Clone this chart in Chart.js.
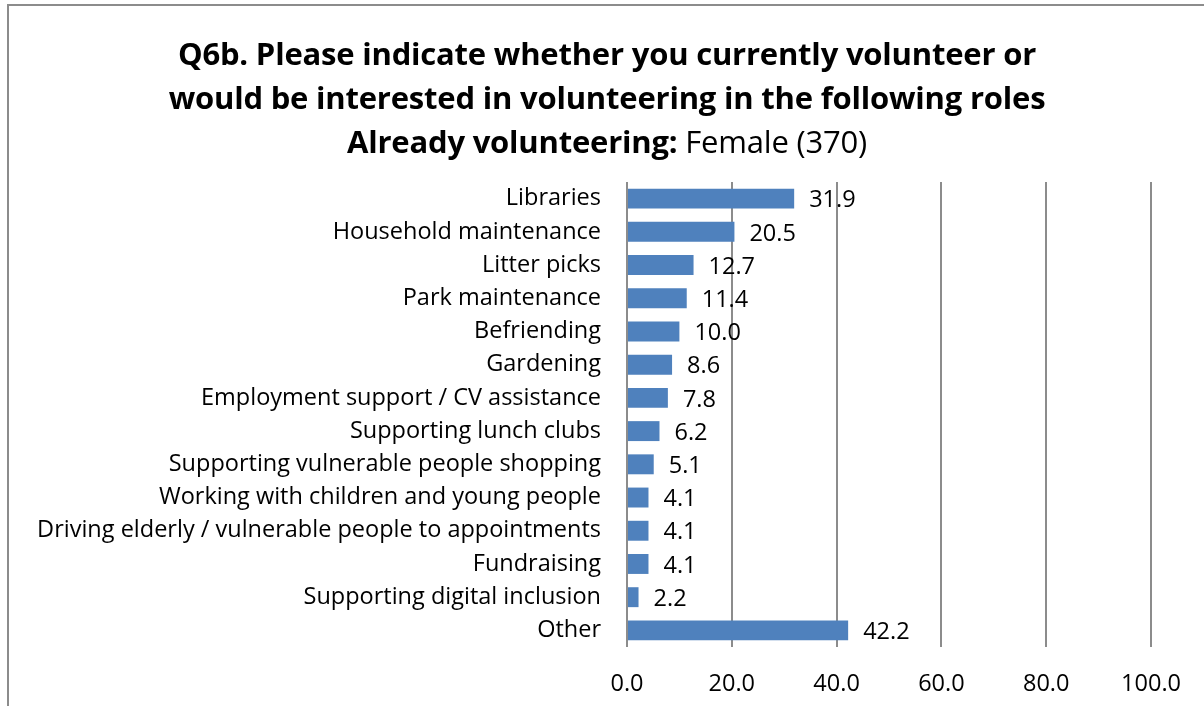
<!DOCTYPE html>
<html>
<head>
<meta charset="utf-8">
<script src="https://cdn.jsdelivr.net/npm/chart.js@4"></script>
<style>
  html, body { margin: 0; padding: 0; background: #fff; }
  #wrap { position: relative; width: 1204px; height: 706px; overflow: hidden; }
  #frame { position: absolute; left: 7px; top: 4px; width: 1300px; height: 800px;
           border-left: 2px solid #8c8c8c; border-top: 2px solid #8c8c8c; }
  #title { position: absolute; left: 0; top: 31px; width: 1214px; text-align: center;
           font-family: "Open Sans", sans-serif; font-size: 31px; line-height: 44px;
           font-weight: bold; color: #000; letter-spacing: -0.2px; }
  #title .plain { font-weight: normal; }
  canvas { position: absolute; left: 0; top: 0; }
</style>
</head>
<body>
<div id="wrap">
  <div id="frame"></div>
  <canvas id="rolesChart" width="1204" height="706"></canvas>
  <div id="title">
    Q6b. Please indicate whether you currently volunteer or<br>
    would be interested in volunteering in the following roles<br>
    Already volunteering: <span class="plain">Female (370)</span>
  </div>
</div>
<script>
const categories = [
  'Libraries',
  'Household maintenance',
  'Litter picks',
  'Park maintenance',
  'Befriending',
  'Gardening',
  'Employment support / CV assistance',
  'Supporting lunch clubs',
  'Supporting vulnerable people shopping',
  'Working with children and young people',
  'Driving elderly / vulnerable people to appointments',
  'Fundraising',
  'Supporting digital inclusion',
  'Other'
];
const femaleValues = [31.9, 20.5, 12.7, 11.4, 10.0, 8.6, 7.8, 6.2, 5.1, 4.1, 4.1, 4.1, 2.2, 42.2];
const xTicks = [0, 20, 40, 60, 80, 100];

const labelFont = { family: '"Open Sans", sans-serif', size: 23.5 };

// value labels to the right of each bar
const barValues = {
  id: 'barValues',
  afterDatasetsDraw(chart) {
    const ctx = chart.ctx;
    const meta = chart.getDatasetMeta(0);
    ctx.save();
    ctx.font = labelFont.size + 'px ' + labelFont.family;
    ctx.fillStyle = '#000';
    ctx.textAlign = 'left';
    ctx.textBaseline = 'middle';
    meta.data.forEach((bar, i) => {
      ctx.fillText(femaleValues[i].toFixed(1), bar.x + 15, bar.y + 2);
    });
    ctx.restore();
  }
};

new Chart(document.getElementById('rolesChart'), {
  type: 'bar',
  data: {
    labels: categories,
    datasets: [{
      data: femaleValues,
      backgroundColor: '#4f81bd',
      categoryPercentage: 1,
      barPercentage: 0.6
    }]
  },
  options: {
    indexAxis: 'y',
    responsive: false,
    animation: false,
    layout: { padding: { top: 182, right: 51, left: 0, bottom: 0 } },
    plugins: { legend: { display: false }, tooltip: { enabled: false } },
    scales: {
      x: {
        min: 0,
        max: 100,
        afterBuildTicks: scale => { scale.ticks = xTicks.map(v => ({ value: v })); },
        afterFit: scale => { scale.height = 59; },
        grid: { color: '#8c8c8c', lineWidth: 2, drawTicks: false },
        border: { display: false },
        ticks: { font: labelFont, color: '#000', padding: 23, callback: v => v.toFixed(1) }
      },
      y: {
        afterFit: scale => { scale.width = 627; },
        grid: { display: false, drawTicks: false },
        border: { display: false },
        ticks: { font: labelFont, color: '#000', padding: 26 }
      }
    }
  },
  plugins: [barValues]
});
</script>
</body>
</html>
